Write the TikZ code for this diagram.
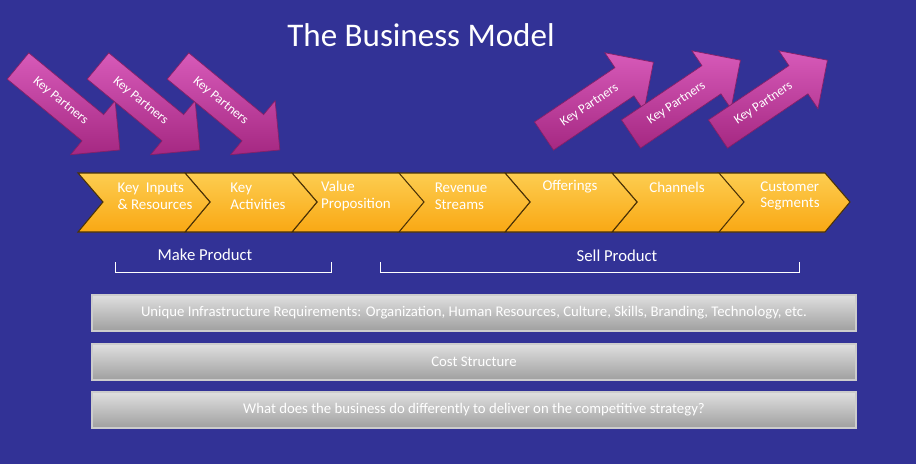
\documentclass[tikz,border=0pt]{standalone}
\usepackage{fontspec}
\setmainfont{Carlito}
\usetikzlibrary{positioning}
\definecolor{bgblue}{RGB}{50,50,150}
\definecolor{chevorange}{RGB}{249,168,20}
\definecolor{chevlight}{RGB}{253,205,80}
\definecolor{partnermag}{RGB}{165,40,130}
\definecolor{partnerlight}{RGB}{215,90,185}
\tikzset{
  chev/.style={top color=chevlight, bottom color=chevorange, draw=black!70!chevorange, line width=0.6pt},
  chevtext/.style={text=white, font=\fontsize{8.5}{9.5}\selectfont, align=left},
  partner/.style={top color=partnerlight, bottom color=partnermag, draw=partnermag!80!black, line width=0.4pt},
  partnertext/.style={text=white, font=\fontsize{7.5}{8}\selectfont},
  bar/.style={top color=gray!25, bottom color=gray!75, draw=gray!40, line width=0.8pt},
  bartext/.style={text=white, font=\fontsize{8.4}{9}\selectfont},
  brace/.style={draw=white, line width=0.5pt},
}
\newcommand{\partnerarrow}[4]{%
  \begin{scope}[shift={(#1,#2)}, rotate=#3]
    \draw[partner] (0,-17) -- (97,-17) -- (97,-35) -- (132,0) -- (97,35) -- (97,17) -- (0,17) -- cycle;
    \node[partnertext, rotate=#3] (#4) at (55,0) {Key Partners};
  \end{scope}}
\newcommand{\chevron}[1]{%
  \draw[chev] (#1,173) -- ++(107,0) -- ++(25,29) -- ++(-25,30) -- ++(-107,0) -- ++(25,-30) -- cycle;}
\begin{document}
\begin{tikzpicture}[x=0.02cm, y=-0.02cm]
  % background
  \fill[bgblue] (0,0) rectangle (916,464);
  \useasboundingbox (0,0) rectangle (916,464);

  % title
  \node[text=white, font=\fontsize{18.8}{22}\selectfont] (title) at (421,35) {The Business Model};

  % key partners, incoming
  \partnerarrow{18}{66}{-39.5}{kpa}
  \partnerarrow{98}{66}{-39.5}{kpb}
  \partnerarrow{178}{66}{-39.5}{kpc}

  % key partners, outgoing
  \partnerarrow{544}{136}{34}{kpd}
  \partnerarrow{631}{134}{34}{kpe}
  \partnerarrow{718}{134}{34}{kpf}

  % value chain
  \foreach \x in {718,612,505,398,292,185,78} {\chevron{\x}}
  \node[chevtext] (inputs) at (155,196) {Key\ \ Inputs\\\& Resources};
  \node[chevtext] (activities) at (258,196) {Key\\Activities};
  \node[chevtext] (value) at (356,196) {Value\\Proposition};
  \node[chevtext] (revenue) at (461,196) {Revenue\\Streams};
  \node[chevtext] (offerings) at (570,187) {Offerings};
  \node[chevtext] (channels) at (677,187) {Channels};
  \node[chevtext] (segments) at (790,196) {Customer\\Segments};

  % make / sell brackets
  \draw[brace] (115,262) |- (331,272) -- (331,262);
  \node[text=white, font=\fontsize{9.5}{11}\selectfont] (make) at (205,255) {Make Product};
  \draw[brace] (380,262) |- (799,272) -- (799,262);
  \node[text=white, font=\fontsize{9.5}{11}\selectfont] (sell) at (617,256) {Sell Product};

  % infrastructure bars
  \draw[bar] (92,295) rectangle (856,331);
  \node[bartext] (infra) at (474,313) {Unique Infrastructure Requirements: Organization, Human Resources, Culture, Skills, Branding, Technology, etc.};
  \draw[bar] (92,344) rectangle (856,380);
  \node[bartext] (cost) at (474,362) {Cost Structure};
  \draw[bar] (92,392) rectangle (856,428);
  \node[bartext] (strategy) at (474,410) {What does the business do differently to deliver on the competitive strategy?};
\end{tikzpicture}
\end{document}
